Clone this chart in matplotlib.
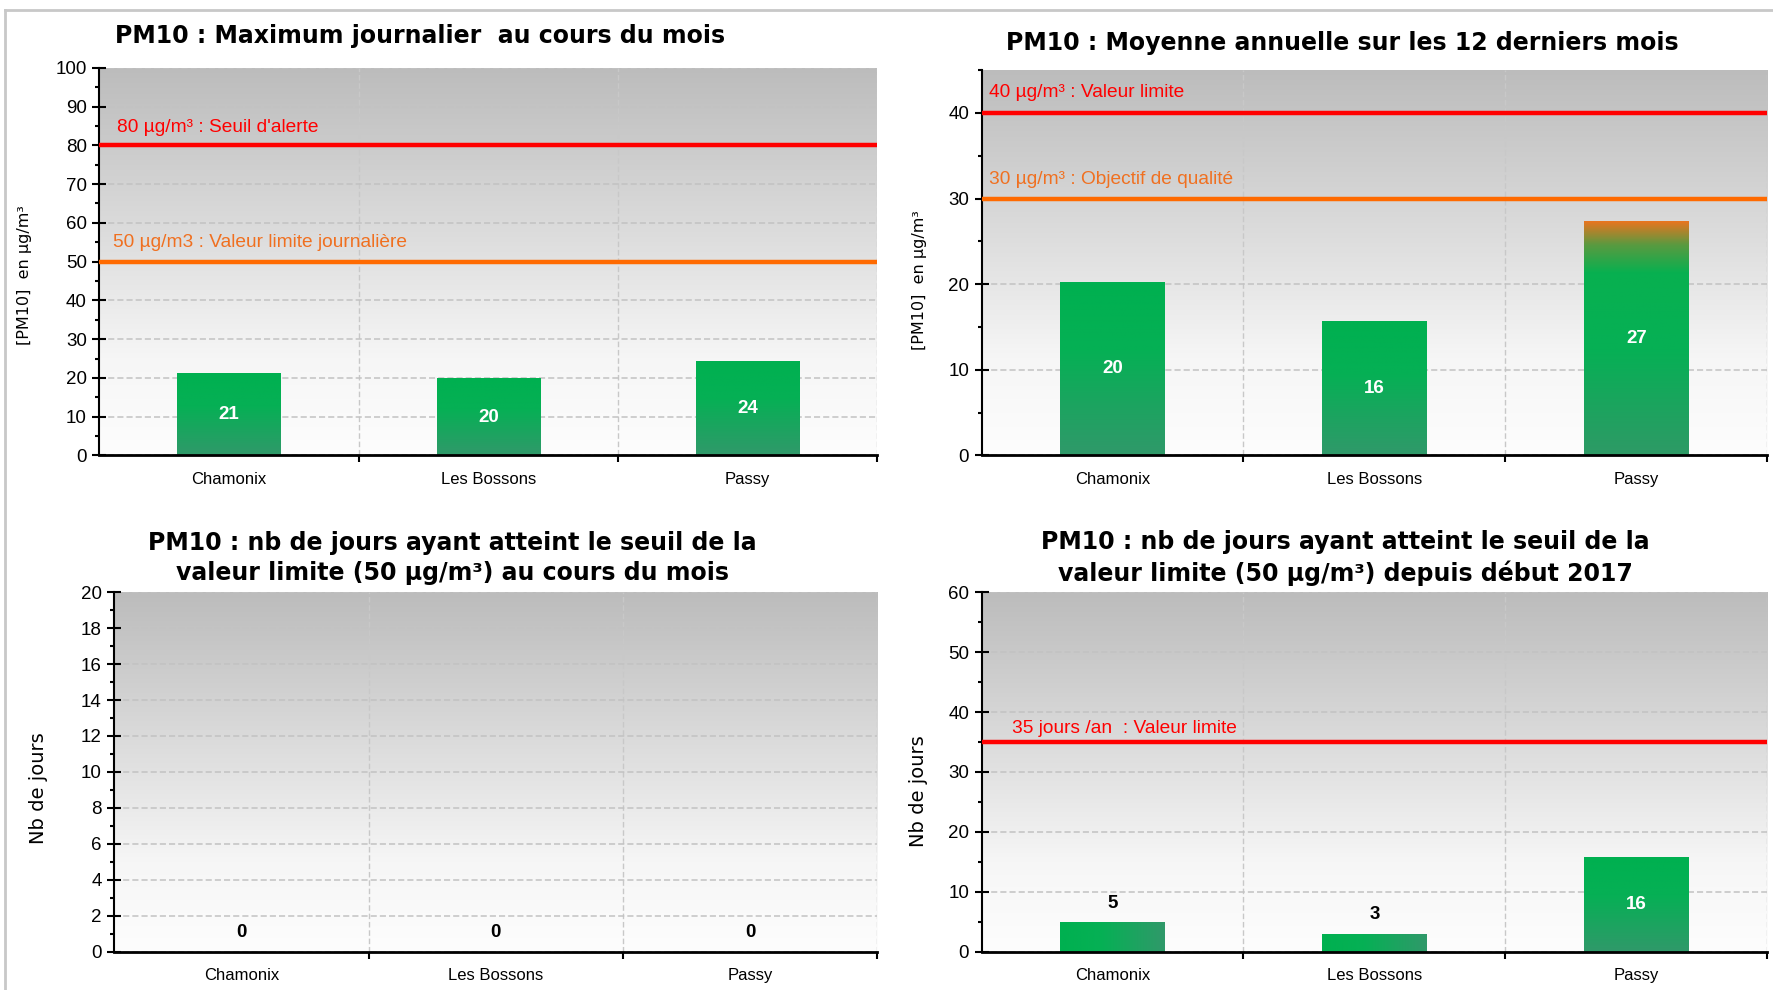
import numpy as np
from matplotlib import pyplot as plt
from matplotlib.colors import LinearSegmentedColormap
from matplotlib.lines import Line2D
from matplotlib.ticker import MultipleLocator

stations = ["Chamonix", "Les Bossons", "Passy"]

# PM10 : maximum journalier au cours du mois
max_journalier = [21.0, 19.8, 24.2]
# PM10 : moyenne annuelle sur les 12 derniers mois
moyenne_annuelle = [20.2, 15.6, 27.3]
# nb de jours >= 50 µg/m3 au cours du mois
jours_mois = [0, 0, 0]
# nb de jours >= 50 µg/m3 depuis début 2017
jours_annee = [4.9, 3.0, 15.8]

RED = "#ff0000"
ORANGE = "#ff6a00"
ORANGE_TXT = "#f07020"

plt.rcParams["font.family"] = ["Liberation Sans", "DejaVu Sans"]

bg_cmap = LinearSegmentedColormap.from_list(
    "bg", [(0, "#fdfdfd"), (0.25, "#f6f6f6"), (0.55, "#dedede"),
           (0.8, "#cbcbcb"), (1, "#bcbcbc")])
green_cmap = LinearSegmentedColormap.from_list(
    "green", [(0, "#30996a"), (0.6, "#06b055"), (1, "#00b050")])
warn_cmap = LinearSegmentedColormap.from_list(
    "warn", [(0, "#2e9a66"), (0.45, "#06b055"), (0.78, "#08b050"),
             (0.9, "#5a9a40"), (1, "#e87520")])


def panel(rect, values, ymax, major, minor, ylabel, label_xy, refs,
          bar_cmaps=None, horizontal=()):
    ax = fig.add_axes(rect)
    x = np.arange(len(stations))

    grad = np.linspace(0, 1, 256).reshape(-1, 1)
    ax.imshow(grad, extent=[-0.5, 2.5, 0, ymax], aspect="auto",
              cmap=bg_cmap, origin="lower", zorder=0)

    bars = ax.bar(x, values, width=0.4, color="none", zorder=2)
    for i, (b, v) in enumerate(zip(bars, values)):
        if v <= 0:
            continue
        cmap = bar_cmaps[i] if bar_cmaps else green_cmap
        if i in horizontal:
            g = np.linspace(1, 0.1, 128).reshape(1, -1)
        else:
            g = grad
        ax.imshow(g, extent=[b.get_x(), b.get_x() + b.get_width(), 0, v],
                  aspect="auto", cmap=cmap, origin="lower", zorder=2)
        txt = f"{v:.0f}"
        if v / ymax > 0.15:
            ax.text(b.get_x() + b.get_width() / 2, v / 2, txt, color="white",
                    fontsize=13.5, fontweight="bold", ha="center", va="center",
                    zorder=4)
        else:
            ax.text(b.get_x() + b.get_width() / 2, v + ymax * 0.053, txt,
                    color="black", fontsize=13.5, fontweight="bold",
                    ha="center", va="center", zorder=4)
    for i, v in enumerate(values):
        if v <= 0:
            ax.text(i, ymax * 0.053, "0", color="black", fontsize=13.5,
                    fontweight="bold", ha="center", va="center", zorder=4)

    for val, color, tcolor, text, tx, ty in refs:
        ax.axhline(val, color=color, lw=3.2, zorder=3)
        ax.text(tx, ty, text, color=tcolor, fontsize=13.8, ha="left",
                va="center", transform=ax.get_yaxis_transform(), zorder=4)

    ax.set_xlim(-0.5, 2.5)
    ax.set_ylim(0, ymax)
    ax.set_axisbelow(True)

    ax.set_xticks([0.5, 1.5, 2.5])
    ax.set_xticklabels([])
    ax.set_xticks(x, minor=True)
    ax.set_xticklabels(stations, minor=True)
    ax.tick_params(axis="x", which="major", direction="out", length=5,
                   width=1.5, color="black")
    ax.tick_params(axis="x", which="minor", length=0, pad=12, labelsize=12)
    ax.yaxis.set_major_locator(MultipleLocator(major))
    ax.yaxis.set_minor_locator(MultipleLocator(minor))
    ax.tick_params(axis="y", which="major", direction="inout", length=10,
                   width=1.5, labelsize=13.5, pad=4)
    ax.tick_params(axis="y", which="minor", direction="out", length=3,
                   width=1.5)

    ax.yaxis.grid(True, which="major", ls=(0, (4, 2)), color="#c2c2c2",
                  lw=1.1)
    ax.xaxis.grid(True, which="major", ls=(0, (4, 2)), color="#c8c8c8",
                  lw=1.0)

    for s in ["top", "right"]:
        ax.spines[s].set_visible(False)
    ax.spines["left"].set_linewidth(1.5)
    ax.spines["bottom"].set_linewidth(2)

    fs = 11.5 if "PM10" in ylabel else 14
    ax.set_ylabel(ylabel, fontsize=fs, family=["DejaVu Sans"])
    ax.yaxis.set_label_coords(*label_xy)
    return ax


fig = plt.figure(figsize=(17.73, 9.90), dpi=100)

panel([0.0561, 0.540, 0.4388, 0.3915], max_journalier, 100, 10, 5,
      "[PM10]  en µg/m³", (-0.087, 0.466),
      [(80, RED, RED, "80 µg/m³ : Seuil d'alerte", 0.022, 84.5),
       (50, ORANGE, ORANGE_TXT, "50 µg/m3 : Valeur limite journalière",
        0.017, 55.0)])

panel([0.5536, 0.540, 0.4432, 0.3892], moyenne_annuelle, 45, 10, 5,
      "[PM10]  en µg/m³", (-0.069, 0.455),
      [(40, RED, RED, "40 µg/m³ : Valeur limite", 0.009, 42.4),
       (30, ORANGE, ORANGE_TXT, "30 µg/m³ : Objectif de qualité", 0.009,
        32.2)],
      bar_cmaps=[green_cmap, green_cmap, warn_cmap])

panel([0.0644, 0.0388, 0.4305, 0.363], jours_mois, 20, 2, 1,
      "Nb de jours", (-0.087, 0.456), [])

panel([0.5536, 0.0388, 0.4432, 0.363], jours_annee, 60, 10, 5,
      "Nb de jours", (-0.068, 0.447),
      [(35, RED, RED, "35 jours /an  : Valeur limite", 0.039, 37.2)],
      horizontal=(0, 1))

title_kw = dict(fontsize=17, fontweight="bold", family=["DejaVu Sans"],
                ha="center", va="center")
fig.text(0.2372, 0.9635, "PM10 : Maximum journalier  au cours du mois",
         **title_kw)
fig.text(0.757, 0.9566, "PM10 : Moyenne annuelle sur les 12 derniers mois",
         **title_kw)
fig.text(0.2551, 0.4366,
         "PM10 : nb de jours ayant atteint le seuil de la\n"
         "valeur limite (50 µg/m³) au cours du mois",
         linespacing=1.3, **title_kw)
fig.text(0.759, 0.4366,
         "PM10 : nb de jours ayant atteint le seuil de la\n"
         "valeur limite (50 µg/m³) depuis début 2017",
         linespacing=1.3, **title_kw)

# light frame around the report block
fig.add_artist(Line2D([0.0028, 1.0], [0.99, 0.99], color="#c8c8c8", lw=2))
fig.add_artist(Line2D([0.0028, 0.0028], [0.0, 0.99], color="#c8c8c8", lw=2))

plt.savefig("out.png", dpi=100)
